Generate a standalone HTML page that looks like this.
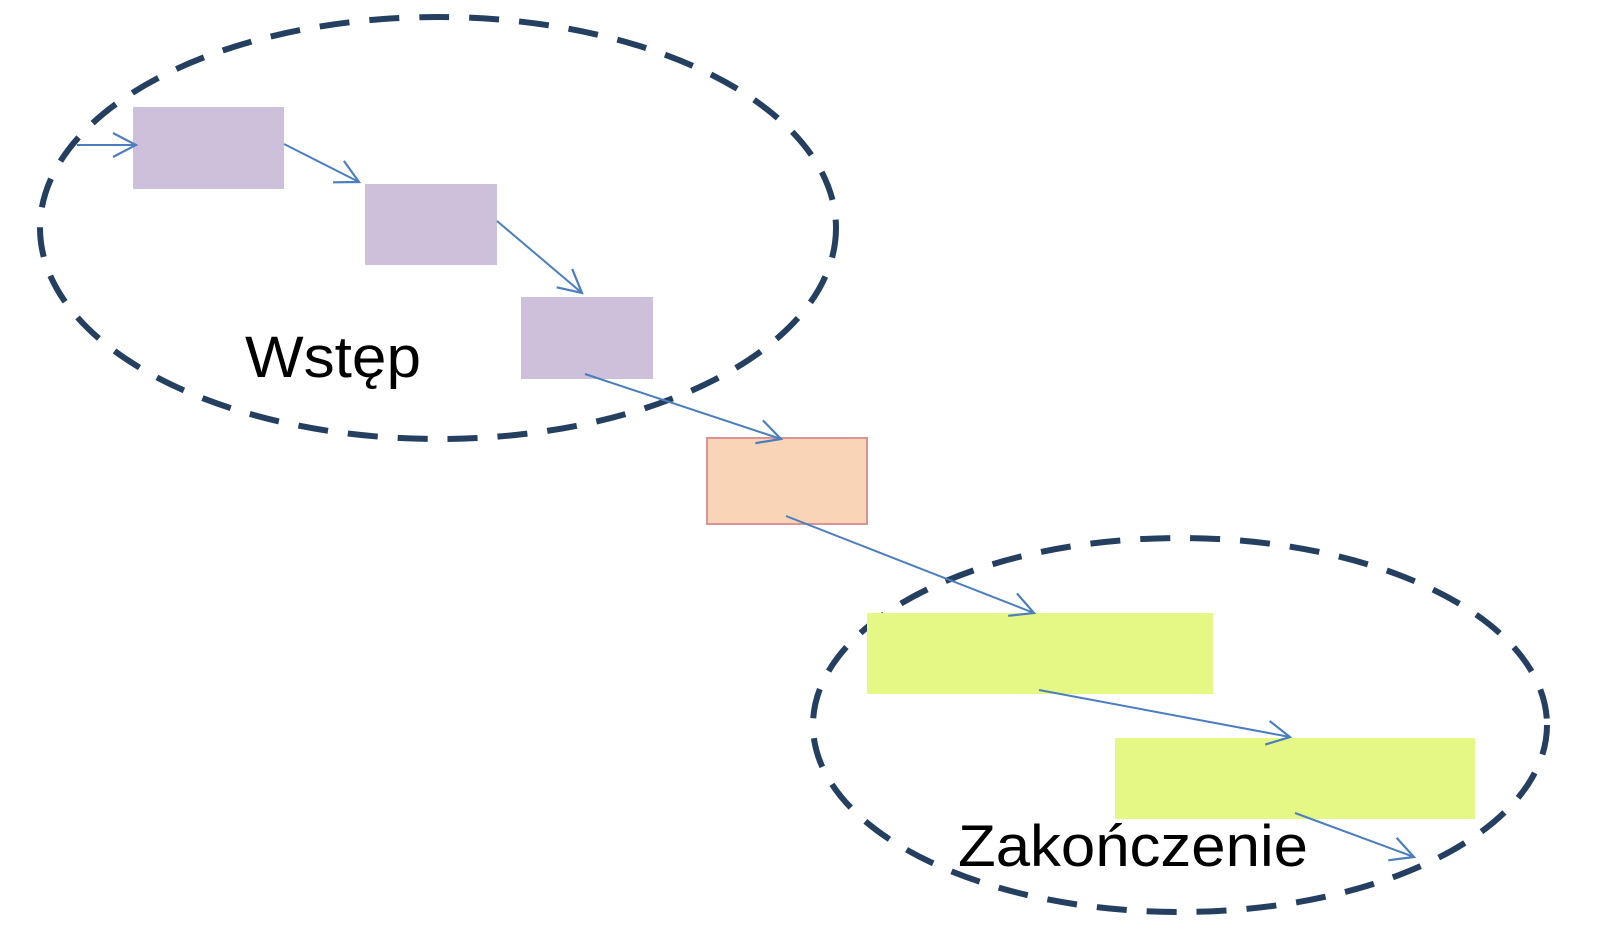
<!DOCTYPE html>
<html><head><meta charset="utf-8"><style>html,body{margin:0;padding:0;background:#fff}svg{display:block}</style></head>
<body>
<svg width="1600" height="929" viewBox="0 0 1600 929" xmlns="http://www.w3.org/2000/svg">
<defs>
<marker id="a" markerWidth="28" markerHeight="28" refX="25" refY="14" orient="auto" markerUnits="userSpaceOnUse">
<path d="M2,2 L25,14 L2,26" fill="none" stroke="#4a7ebf" stroke-width="2.2"/>
</marker>
</defs>
<ellipse cx="438" cy="228" rx="398" ry="211" fill="none" stroke="#243f60" stroke-width="6" stroke-dasharray="30,20"/>
<ellipse cx="1180" cy="725" rx="367" ry="187" fill="none" stroke="#243f60" stroke-width="6" stroke-dasharray="30,20"/>
<rect x="133" y="107" width="151" height="82" fill="#ccc0da"/>
<rect x="365" y="184" width="132" height="81" fill="#ccc0da"/>
<rect x="521" y="297" width="132" height="82" fill="#ccc0da"/>
<rect x="707" y="438" width="160" height="86" fill="#fad4b6" stroke="#d99594" stroke-width="2"/>
<rect x="867" y="613" width="346" height="81" fill="#e5f886"/>
<rect x="1115" y="738" width="360" height="81" fill="#e5f886"/>
<g stroke="#4a7ebf" stroke-width="2" fill="none" marker-end="url(#a)">
<line x1="77" y1="145" x2="136" y2="145"/>
<line x1="284" y1="144" x2="359" y2="182"/>
<line x1="497" y1="221" x2="582" y2="293"/>
<line x1="585" y1="374" x2="781" y2="439"/>
<line x1="786" y1="516" x2="1034" y2="613"/>
<line x1="1039" y1="690" x2="1290" y2="737"/>
<line x1="1295" y1="813" x2="1414" y2="857"/>
</g>
<text x="245" y="377" font-family="Liberation Sans, sans-serif" font-size="58" textLength="176" lengthAdjust="spacingAndGlyphs" fill="#000">Wstęp</text>
<text x="958" y="866" font-family="Liberation Sans, sans-serif" font-size="58" textLength="350" lengthAdjust="spacingAndGlyphs" fill="#000">Zakończenie</text>
</svg>
</body></html>
